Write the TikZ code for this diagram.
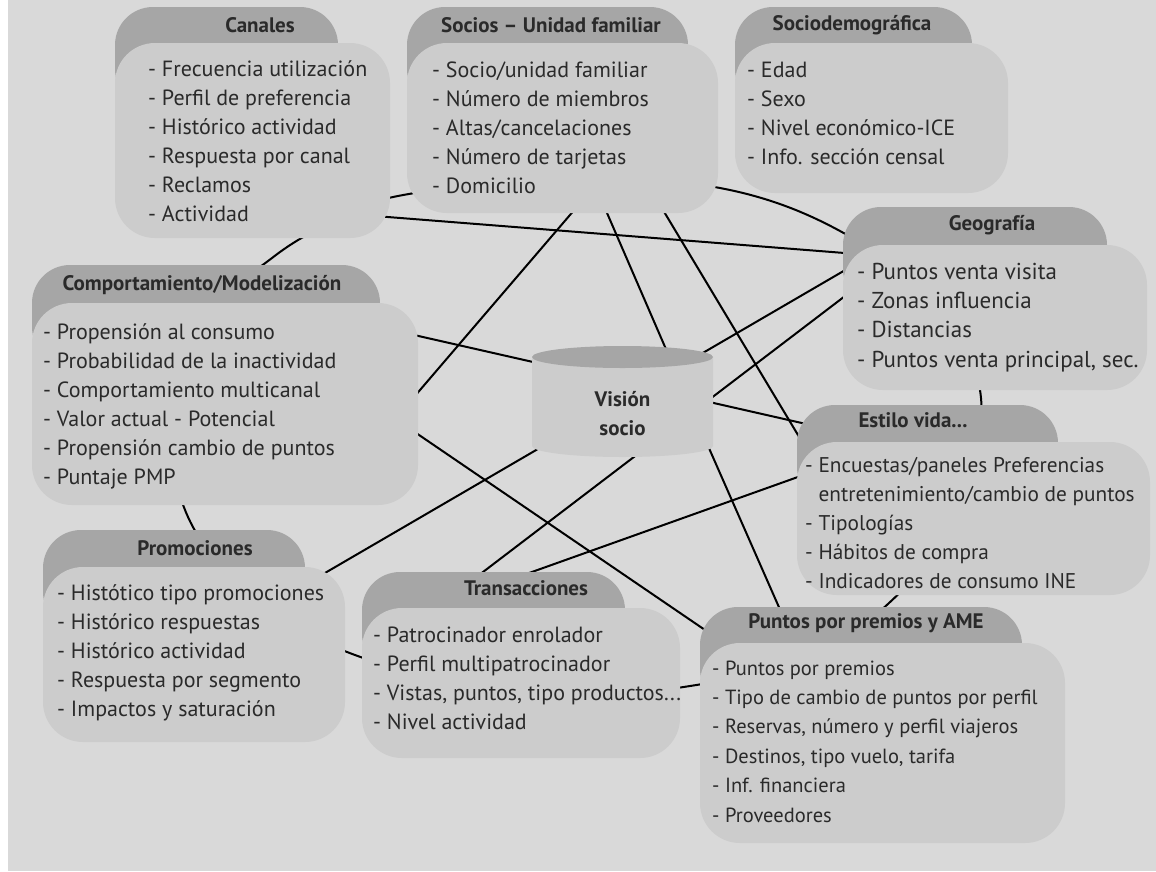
\documentclass[tikz,border=0pt]{standalone}
\usepackage{fontspec}
\setmainfont{PT Sans}
\usepackage{xcolor}
\usepackage{tikz}
\definecolor{bggray}{HTML}{D9D9D9}
\definecolor{tabgray}{HTML}{A6A6A6}
\definecolor{bodygray}{HTML}{CCCCCC}
\definecolor{txtgray}{HTML}{2A2A2A}
\pgfdeclarelayer{back}
\pgfsetlayers{back,main}
\tikzset{
  tab/.style={rectangle, rounded corners=38pt, fill=tabgray, anchor=north west,
              minimum height=100pt, inner sep=0pt, outer sep=0pt},
  body/.style={rectangle, rounded corners=40pt, fill=bodygray, anchor=north west,
               inner sep=0pt, outer sep=0pt},
  ttl/.style={font=\fontsize{21}{29}\selectfont\bfseries, text=txtgray, inner sep=0pt},
  items/.style={align=left, anchor=base west, inner sep=0pt,
                font=\fontsize{22}{29}\selectfont, text=txtgray},
  link/.style={line width=2pt}
}

\begin{document}
\begin{tikzpicture}[x=1pt,y=-1pt]
  \useasboundingbox (0,0) rectangle (1156,871);

  % tabs and bodies
  \node[tab, minimum width=223pt] (cantab) at (115,7) {};
  \node[body, minimum width=275pt, minimum height=195pt] (can) at (115,43) {};
  \node[tab, minimum width=281pt] (soctab) at (407,7) {};
  \node[body, minimum width=311pt, minimum height=170pt] (soc) at (407,43) {};
  \node[tab, minimum width=237pt] (sdemtab) at (735,7) {};
  \node[body, minimum width=273pt, minimum height=150pt] (sdem) at (735,43) {};
  \node[tab, minimum width=264pt] (geotab) at (843,207) {};
  \node[body, minimum width=304pt, minimum height=145pt] (geo) at (843,245) {};
  \node[tab, minimum width=348pt] (comptab) at (32,265) {};
  \node[body, minimum width=386pt, minimum height=202pt] (comp) at (32,303) {};
  \node[tab, minimum width=261pt] (esttab) at (797,405) {};
  \node[body, minimum width=353pt, minimum height=153pt] (est) at (797,442) {};
  \node[tab, minimum width=262pt] (promtab) at (43,530) {};
  \node[body, minimum width=302pt, minimum height=175pt] (prom) at (43,567) {};
  \node[tab, minimum width=263pt] (tratab) at (362,572) {};
  \node[body, minimum width=318pt, minimum height=150pt] (tra) at (362,608) {};
  \node[tab, minimum width=322pt] (puntab) at (700,607) {};
  \node[body, minimum width=365pt, minimum height=200pt] (pun) at (700,643) {};

  % titles
  \node[ttl] at (260,25) {Canales};
  \node[ttl] at (551,25) {Socios – Unidad familiar};
  \node[ttl] at (852,25) {Sociodemográfica};
  \node[ttl] at (992,225) {Geografía};
  \node[ttl] at (202,285) {Comportamiento/Modelización};
  \node[ttl] at (913,420) {Estilo vida...};
  \node[ttl] at (195,548) {Promociones};
  \node[ttl] at (526,588) {Transacciones};
  \node[ttl] at (866,623) {Puntos por premios y AME};

  % lists (placed on the baseline of their last line)
  \node[items] at (148,221) {- Frecuencia utilización\\- Perfil de preferencia\\- Histórico actividad\\- Respuesta por canal\\- Reclamos\\- Actividad};
  \node[items] at (432,193) {- Socio/unidad familiar\\- Número de miembros\\- Altas/cancelaciones\\- Número de tarjetas\\- Domicilio};
  \node[items] at (747,164) {- Edad\\- Sexo\\- Nivel económico-ICE\\- Info. sección censal};
  \node[items, font=\fontsize{23}{29.3}\selectfont] at (857,367) {- Puntos venta visita\\- Zonas influencia\\- Distancias\\- Puntos venta principal, sec.};
  \node[items] at (43,484) {- Propensión al consumo\\- Probabilidad de la inactividad\\- Comportamiento multicanal\\- Valor actual - Potencial\\- Propensión cambio de puntos\\- Puntaje PMP};
  \node[items, font=\fontsize{21.3}{29}\selectfont] at (805,588) {- Encuestas/paneles Preferencias\\\phantom{- }entretenimiento/cambio de puntos\\- Tipologías\\- Hábitos de compra\\- Indicadores de consumo INE};
  \node[items] at (57,716) {- Histótico tipo promociones\\- Histórico respuestas\\- Histórico actividad\\- Respuesta por segmento\\- Impactos y saturación};
  \node[items] at (373,729) {- Patrocinador enrolador\\- Perfil multipatrocinador\\- Vistas, puntos, tipo productos...\\- Nivel actividad};
  \node[items, font=\fontsize{20.5}{29.4}\selectfont] at (712,822) {- Puntos por premios\\- Tipo de cambio de puntos por perfil\\- Reservas, número y perfil viajeros\\- Destinos, tipo vuelo, tarifa\\- Inf. financiera\\- Proveedores};

  % cylinder in the middle
  \fill[bodygray] (532,357) -- (532,446) arc[start angle=180, end angle=0, x radius=90.5, y radius=11] -- (713,357) -- cycle;
  \fill[tabgray] (622.5,357) ellipse[x radius=90.5, y radius=11];
  \node[ttl, align=center] (vis) at (622.5,414) {Visión\\socio};

  \begin{pgfonlayer}{back}
    \fill[bggray] (8,0) rectangle (1156,871);
    % ring round the boxes
    \draw[link] plot[smooth cycle, tension=0.6] coordinates {
      (398,196) (560,178) (720,188) (840,231) (935,305) (981,398) (955,520)
      (889,603) (810,655) (690,686) (530,698) (355,655) (250,595) (188,517)
      (175,430) (205,320) (272,258) (330,223)};
    % links
    \draw[link] ([shift={(-15,-22)}]can.south east) -- ([shift={(27,10)}]geo.north west);
    \draw[link] ([shift={(-13,3.5)}]comp.east) -- ([shift={(20.3,-13)}]soc.south);
    \draw[link] ([shift={(38.9,-13)}]soc.south) -- ([shift={(65.5,-14)}]vis.center);
    \draw[link] ([shift={(94.5,-13)}]soc.south) -- ([shift={(13,13)}]est.north west);
    \draw[link] ([shift={(-18,28.8)}]comp.north east) -- ([shift={(33,-12.6)}]est.north west);
    \draw[link] ([shift={(-18,18)}]comp.east) -- ([shift={(20,-2.8)}]pun.north west);
    \draw[link] ([shift={(-35,14.7)}]prom.north east) -- ([shift={(27,10.6)}]geo.north west);
    \draw[link] ([shift={(108,-26.1)}]tra.north west) -- ([shift={(27,32)}]geo.north west);
    \draw[link] ([shift={(143,-26.4)}]tra.north west) -- ([shift={(23,27.1)}]est.north west);
    \draw[link] ([shift={(78.5,16)}]vis.center) -- ([shift={(86.8,-18)}]pun.north west);
  \end{pgfonlayer}
\end{tikzpicture}
\end{document}
